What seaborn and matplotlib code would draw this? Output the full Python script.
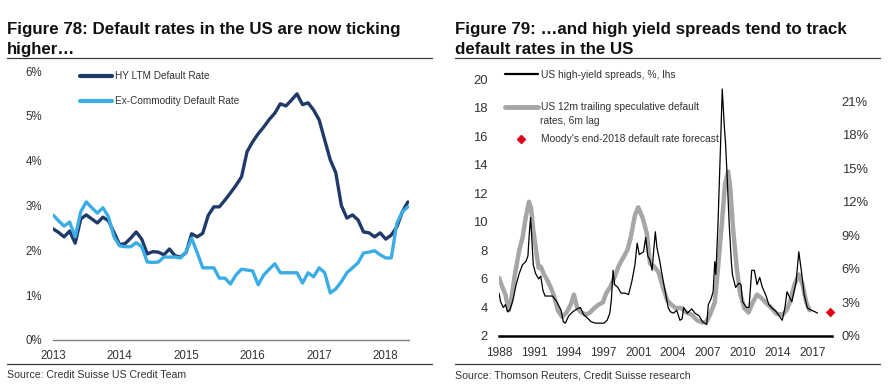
import numpy as np
import pandas as pd
import matplotlib
matplotlib.use("Agg")
import matplotlib.pyplot as plt
from matplotlib.lines import Line2D
from matplotlib import font_manager
import seaborn as sns

# ---------------- data: Figure 78 (monthly, Jan-2013 .. May-2018) ----------------
left_start_year = 2013
hy_ltm_default = [2.48, 2.40, 2.30, 2.43, 2.16, 2.70, 2.79, 2.70, 2.61, 2.74, 2.66, 2.40,
                  2.13, 2.15, 2.27, 2.41, 2.25, 1.92, 1.97, 1.96, 1.90, 2.03, 1.88, 1.85,
                  1.95, 2.37, 2.30, 2.38, 2.78, 2.97, 2.97, 3.12, 3.28, 3.45, 3.64, 4.20,
                  4.42, 4.60, 4.75, 4.92, 5.06, 5.27, 5.22, 5.35, 5.49, 5.25, 5.29, 5.13,
                  4.91, 4.46, 4.02, 3.73, 3.00, 2.72, 2.79, 2.68, 2.41, 2.39, 2.30, 2.39,
                  2.25, 2.34, 2.52, 2.86, 3.08]
ex_commodity_default = [2.79, 2.66, 2.54, 2.63, 2.30, 2.86, 3.08, 2.95, 2.83, 2.95, 2.75, 2.30,
                        2.10, 2.08, 2.08, 2.17, 2.08, 1.74, 1.73, 1.74, 1.85, 1.85, 1.85, 1.83,
                        1.97, 2.27, 1.95, 1.61, 1.61, 1.61, 1.38, 1.38, 1.25, 1.45, 1.58, 1.56,
                        1.54, 1.23, 1.45, 1.58, 1.70, 1.50, 1.50, 1.50, 1.50, 1.27, 1.50, 1.41,
                        1.61, 1.50, 1.05, 1.14, 1.30, 1.50, 1.61, 1.72, 1.94, 1.96, 1.99, 1.90,
                        1.83, 1.83, 2.60, 2.86, 2.97]
left_years = [2013, 2014, 2015, 2016, 2017, 2018]
left_pct_ticks = [0, 1, 2, 3, 4, 5, 6]

# ---------------- data: Figure 79 ----------------
spread_t = [1988.0, 1988.15, 1988.4, 1988.6, 1988.8, 1989.0, 1989.3, 1989.6, 1989.9, 1990.2,
            1990.5, 1990.7, 1990.85, 1990.95, 1991.05, 1991.2, 1991.4, 1991.7, 1991.9, 1992.1,
            1992.3, 1992.7, 1993.0, 1993.4, 1993.8, 1994.0, 1994.2, 1994.5, 1994.9, 1995.3,
            1995.6, 1995.9, 1996.2, 1996.6, 1997.0, 1997.4, 1997.8, 1998.1, 1998.35, 1998.5,
            1998.65, 1998.8, 1999.1, 1999.4, 1999.8, 2000.1, 2000.4, 2000.7, 2000.9, 2001.1,
            2001.3, 2001.5, 2001.7, 2001.9, 2002.1, 2002.3, 2002.45, 2002.6, 2002.75, 2003.0,
            2003.3, 2003.6, 2003.8, 2004.0, 2004.3, 2004.6, 2004.9, 2005.1, 2005.25, 2005.6,
            2006.0, 2006.3, 2006.7, 2007.0, 2007.4, 2007.55, 2007.8, 2008.0, 2008.15, 2008.25,
            2008.45, 2008.7, 2008.85, 2009.05, 2009.15, 2009.3, 2009.5, 2009.7, 2009.8, 2010.1,
            2010.4, 2010.6, 2010.75, 2011.1, 2011.35, 2011.6, 2011.85, 2012.1, 2012.35, 2012.6,
            2012.9, 2013.2, 2013.5, 2013.9, 2014.45, 2014.7, 2014.9, 2015.15, 2015.35, 2015.75,
            2016.0, 2016.25, 2016.5, 2016.8, 2017.2, 2017.5, 2017.75]
spread_val = [5.0, 4.4, 4.0, 4.2, 3.7, 3.8, 4.5, 5.6, 6.4, 7.0,
              7.2, 7.6, 9.4, 10.3, 9.0, 7.0, 6.4, 6.0, 6.2, 5.2,
              4.8, 4.8, 4.8, 4.4, 3.8, 3.0, 2.9, 3.4, 3.7, 3.9,
              4.0, 3.5, 3.3, 3.0, 2.9, 2.9, 2.9, 3.1, 3.6, 4.6,
              6.6, 5.6, 5.4, 5.0, 5.0, 4.9, 5.8, 7.0, 8.5, 7.7,
              7.8, 7.9, 8.9, 7.6, 7.3, 6.6, 8.0, 9.3, 8.2, 7.3,
              6.0, 4.8, 4.0, 3.7, 3.6, 3.8, 3.1, 3.2, 4.0, 3.6,
              3.9, 3.6, 3.4, 3.0, 2.8, 4.2, 4.6, 5.1, 7.2, 6.3,
              9.8, 15.6, 19.3, 16.6, 15.6, 13.3, 9.8, 7.2, 6.3, 5.4,
              5.7, 5.6, 4.4, 4.0, 4.0, 6.6, 6.6, 5.6, 6.1, 5.4,
              4.9, 4.2, 3.96, 3.7, 3.1, 3.96, 5.1, 4.7, 4.4, 5.8,
              7.9, 6.5, 4.9, 3.96, 3.8, 3.7, 3.6]
default_t = [1988.0, 1988.3, 1988.6, 1988.9, 1989.1, 1989.5, 1989.9, 1990.2, 1990.5, 1990.8,
             1991.0, 1991.2, 1991.5, 1991.7, 1991.9, 1992.2, 1992.5, 1992.8, 1993.1, 1993.5,
             1993.9, 1994.3, 1994.7, 1995.0, 1995.3, 1995.7, 1996.1, 1996.5, 1996.9, 1997.3,
             1997.7, 1998.0, 1998.4, 1998.8, 1999.2, 1999.6, 2000.0, 2000.3, 2000.7, 2001.0,
             2001.4, 2001.8, 2002.1, 2002.5, 2002.9, 2003.3, 2003.7, 2004.1, 2004.5, 2005.0,
             2005.5, 2006.0, 2006.5, 2007.0, 2007.4, 2007.7, 2008.15, 2008.4, 2008.8, 2009.1,
             2009.4, 2009.6, 2009.85, 2010.2, 2010.5, 2010.9, 2011.3, 2011.7, 2012.1, 2012.5,
             2013.0, 2013.45, 2013.9, 2014.5, 2014.85, 2015.15, 2015.6, 2016.0, 2016.35, 2016.7,
             2017.0]
default_val = [5.2, 4.4, 3.7, 2.3, 3.0, 5.6, 7.7, 8.8, 10.6, 12.0,
               11.4, 9.5, 7.4, 6.1, 6.2, 5.5, 5.0, 4.4, 3.7, 2.3,
               1.7, 2.1, 2.8, 3.7, 2.5, 2.1, 1.9, 2.1, 2.5, 2.8,
               3.0, 3.8, 4.4, 5.3, 6.3, 7.0, 7.7, 8.8, 10.8, 11.5,
               10.6, 9.2, 6.5, 6.2, 5.7, 4.4, 3.2, 2.8, 2.5, 2.5,
               2.1, 1.9, 1.4, 1.2, 1.3, 1.9, 3.0, 5.5, 9.9, 13.5,
               14.7, 13.2, 9.7, 6.1, 3.9, 2.5, 2.1, 3.0, 3.7, 3.4,
               2.9, 2.5, 2.0, 1.9, 2.3, 3.0, 4.6, 5.5, 4.6, 3.0,
               2.3]
forecast_t = [2018.97]
forecast_val = [2.1]
right_xtick_labels = ["1988", "1991", "1994", "1997", "2001", "2004", "2007", "2010", "2014", "2017"]
right_left_ticks = [2, 4, 6, 8, 10, 12, 14, 16, 18, 20]
right_pct_ticks = [0, 3, 6, 9, 12, 15, 18, 21]

# ---------------- style ----------------
sns.set_style("white")
avail = {f.name for f in font_manager.fontManager.ttflist}
NARROW = ["Liberation Sans Narrow", "Liberation Sans"] if "Liberation Sans Narrow" in avail else ["Liberation Sans"]
plt.rcParams["font.family"] = ["Liberation Sans", "DejaVu Sans"]

DARK = "#1F3A68"
LIGHT = "#3AADE6"
GREY = "#A6A6A6"
RED = "#E2001A"
TXT = "#333333"

W, H = 890, 391
fig = plt.figure(figsize=(W / 100, H / 100), dpi=100)


def ax_px(l, t, r, b):
    return fig.add_axes([l / W, 1 - b / H, (r - l) / W, (b - t) / H])


def hline(x0, x1, y, color="#3a3a3a", lw=0.9):
    fig.add_artist(Line2D([x0 / W, x1 / W], [1 - y / H, 1 - y / H], color=color, lw=lw,
                          transform=fig.transFigure))


# ================= Figure 78 =================
dfL = pd.DataFrame({
    "year": [left_start_year + m / 12 for m in range(len(hy_ltm_default))],
    "HY LTM Default Rate": hy_ltm_default,
    "Ex-Commodity Default Rate": ex_commodity_default,
})
axL = ax_px(53, 71, 409, 340)
sns.lineplot(data=dfL, x="year", y="HY LTM Default Rate", ax=axL, color=DARK, lw=2.4,
             label="HY LTM Default Rate")
sns.lineplot(data=dfL, x="year", y="Ex-Commodity Default Rate", ax=axL, color=LIGHT, lw=2.4,
             label="Ex-Commodity Default Rate")
axL.set_xlim(2013, 2018.35)
axL.set_ylim(0, 6)
axL.set_xlabel("")
axL.set_ylabel("")
axL.set_xticks(left_years)
axL.set_xticklabels([str(y) for y in left_years], family=NARROW, fontsize=8.3, color=TXT)
axL.set_yticks(left_pct_ticks)
axL.set_yticklabels([f"{v}%" for v in left_pct_ticks], family=NARROW, fontsize=8.3, color=TXT)
for s in ["top", "right", "left"]:
    axL.spines[s].set_visible(False)
axL.spines["bottom"].set_color("#7f7f7f")
axL.spines["bottom"].set_linewidth(1.0)
axL.tick_params(axis="x", direction="out", length=4, width=1, color="#7f7f7f", pad=3)
axL.tick_params(axis="y", length=0, pad=8)
axL.patch.set_alpha(0)
legL = axL.legend(loc="upper left", bbox_to_anchor=(80 / W, 1 - 71 / H), bbox_transform=fig.transFigure,
                  frameon=False, borderpad=0, borderaxespad=0, handlelength=3.2, handletextpad=0.3,
                  labelspacing=1.55, prop={"family": NARROW, "size": 7.2})
for t in legL.get_texts():
    t.set_color(TXT)
for h in legL.get_lines():
    h.set_linewidth(3)

fig.text(7 / W, 1 - 34 / H, "Figure 78: Default rates in the US are now ticking", fontsize=12.2,
         fontweight="bold", va="baseline", ha="left", color="#111111")
fig.text(7 / W, 1 - 54 / H, "higher\u2026", fontsize=12.2, fontweight="bold", va="baseline", ha="left",
         color="#111111")
hline(7, 432, 58)
hline(7, 432, 364)
fig.text(7 / W, 1 - 375 / H, "Source: Credit Suisse US Credit Team", fontsize=7.6, va="center",
         ha="left", color=TXT)

# ================= Figure 79 =================
dfS = pd.DataFrame({"t": spread_t, "v": spread_val})
dfD = pd.DataFrame({"t": default_t, "v": default_val})
dfF = pd.DataFrame({"t": forecast_t, "v": forecast_val})

axR = ax_px(499, 79, 832, 336)
axR2 = axR.twinx()
sns.lineplot(data=dfD, x="t", y="v", ax=axR2, color=GREY, lw=3.2)
sns.scatterplot(data=dfF, x="t", y="v", ax=axR2, color=RED, marker="D", s=24, edgecolor="none",
                clip_on=False)
sns.lineplot(data=dfS, x="t", y="v", ax=axR, color="black", lw=0.9)
axR.set_zorder(axR2.get_zorder() + 1)
axR.patch.set_visible(False)

axR.set_xlim(1988, 2019.1)
axR.set_ylim(2, 20)
axR2.set_ylim(0, 22.97)
tick_pos = [1988 + 3.25 * k for k in range(len(right_xtick_labels))]
axR.set_xticks(tick_pos)
axR.set_xticklabels(right_xtick_labels, family=NARROW, fontsize=8.6, color=TXT)
axR.set_yticks(right_left_ticks)
axR.set_yticklabels([str(v) for v in right_left_ticks], family=NARROW, fontsize=9.4, color=TXT)
axR2.set_yticks(right_pct_ticks)
axR2.set_yticklabels([f"{v}%" for v in right_pct_ticks], family=NARROW, fontsize=9.4, color=TXT)
for a in (axR, axR2):
    a.set_xlabel("")
    a.set_ylabel("")
    for s in ["top", "right", "left", "bottom"]:
        a.spines[s].set_visible(False)
axR.spines["bottom"].set_visible(True)
axR.spines["bottom"].set_color("black")
axR.spines["bottom"].set_linewidth(1.8)
axR.tick_params(axis="x", direction="out", length=5, width=1.5, color="black", pad=3)
axR.tick_params(axis="y", length=0, pad=8)
axR2.tick_params(axis="y", length=0, pad=7)

handles = [Line2D([], [], color="black", lw=1.6),
           Line2D([], [], color=GREY, lw=3.5),
           Line2D([], [], color=RED, marker="D", ms=4, lw=0)]
labels = ["US high-yield spreads, %, lhs",
          "US 12m trailing speculative default",
          "Moody's end-2018 default rate forecast"]
legR = axR.legend(handles, labels, loc="upper left", bbox_to_anchor=(505 / W, 1 - 70 / H),
                  bbox_transform=fig.transFigure, frameon=False, borderpad=0, borderaxespad=0,
                  handlelength=3.2, handletextpad=0.3, labelspacing=2.15,
                  prop={"family": NARROW, "size": 7.4})
for t in legR.get_texts():
    t.set_color(TXT)
fig.text(540 / W, 1 - 121 / H, "rates, 6m lag", family=NARROW, fontsize=7.4, va="center",
         ha="left", color=TXT)

fig.text(455 / W, 1 - 34 / H, "Figure 79: \u2026and high yield spreads tend to track", fontsize=12.2,
         fontweight="bold", va="baseline", ha="left", color="#111111")
fig.text(455 / W, 1 - 54 / H, "default rates in the US", fontsize=12.2, fontweight="bold",
         va="baseline", ha="left", color="#111111")
hline(455, 880, 58)
hline(455, 880, 364)
fig.text(455 / W, 1 - 375 / H, "Source: Thomson Reuters, Credit Suisse research", fontsize=7.6,
         va="center", ha="left", color=TXT)

fig.savefig("out.png", dpi=100, facecolor="white")
